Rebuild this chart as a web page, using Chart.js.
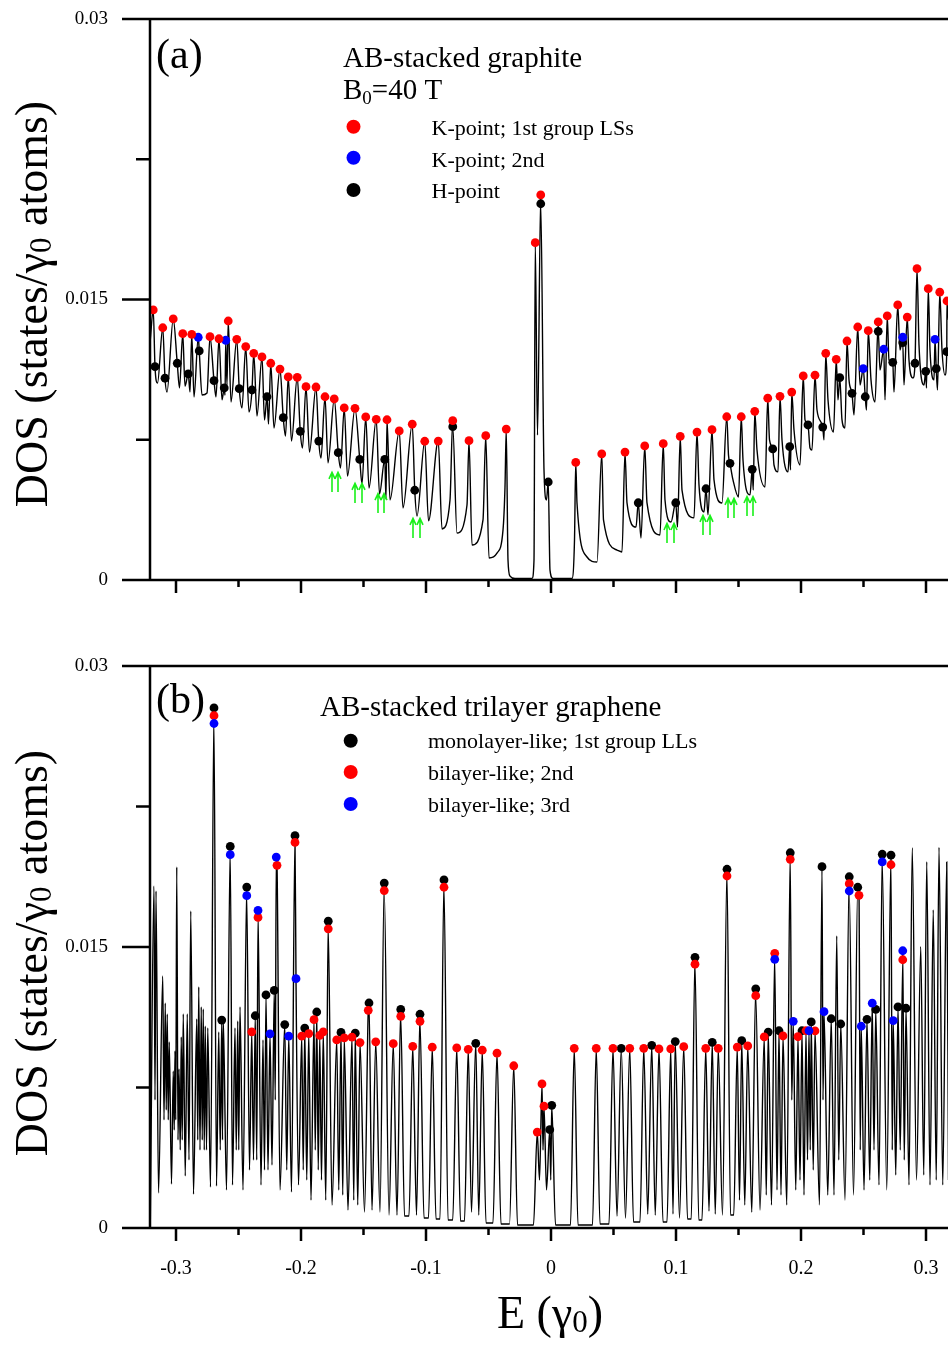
<!DOCTYPE html>
<html>
<head>
<meta charset="utf-8">
<script src="https://cdn.jsdelivr.net/npm/chart.js@4.4.1/dist/chart.umd.min.js"></script>
<style>
  html, body { margin: 0; padding: 0; background: #fff; }
  #wrap { position: relative; width: 948px; height: 1345px; overflow: hidden; }
  canvas { position: absolute; left: 0; }
  #ca { top: 0; }
  #cb { top: 620px; }
</style>
</head>
<body>
<div id="wrap">
  <canvas id="ca" width="948" height="620"></canvas>
  <canvas id="cb" width="948" height="725"></canvas>
</div>
<script>
const SERIF = "'Liberation Serif', 'Times New Roman', serif";

// axes
const xMin = -0.3208, xMax = 0.3176;
const xTicks = [-0.3, -0.2, -0.1, 0, 0.1, 0.2, 0.3];
const xMinorTicks = [-0.25, -0.15, -0.05, 0.05, 0.15, 0.25];
const yTicks = [0, 0.015, 0.03];
const yMinorTicks = [0.0075, 0.0225];

// ---- panel (a): AB-stacked graphite, [E, DOS]
const redA = [[-0.3182,0.01444],[-0.3106,0.01349],[-0.3022,0.01396],[-0.2946,0.01317],[-0.2874,0.01314],[-0.2728,0.01301],[-0.2656,0.0129],[-0.2582,0.01385],[-0.2514,0.01287],[-0.2442,0.01248],[-0.2378,0.01212],[-0.2312,0.01193],[-0.2242,0.01159],[-0.2168,0.01128],[-0.2102,0.01086],[-0.203,0.01084],[-0.196,0.01034],[-0.188,0.01032],[-0.1808,0.0098],[-0.1734,0.00968],[-0.1654,0.0092],[-0.1568,0.00918],[-0.1482,0.00872],[-0.1398,0.00859],[-0.1312,0.00857],[-0.1214,0.00797],[-0.111,0.00833],[-0.101,0.00742],[-0.0902,0.00743],[-0.0786,0.00852],[-0.0656,0.00745],[-0.0522,0.00772],[-0.0358,0.00807],[-0.0126,0.01804],[-0.0082,0.02059],
  [0.0198,0.00629],[0.0406,0.00674],[0.0592,0.00684],[0.075,0.00717],[0.0898,0.00729],[0.1034,0.00768],[0.1168,0.00791],[0.1288,0.00804],[0.1406,0.00873],[0.1522,0.00873],[0.163,0.00902],[0.1734,0.00972],[0.1832,0.00982],[0.1926,0.01005],[0.2018,0.01091],[0.2112,0.01095],[0.2198,0.01212],[0.2282,0.0118],[0.2368,0.01278],[0.2454,0.01353],[0.2538,0.01333],[0.2618,0.0138],[0.269,0.01412],[0.2774,0.01471],[0.285,0.01406],[0.2928,0.01665],[0.3018,0.01558],[0.311,0.01539],[0.3168,0.01492]];
const blueA = [[-0.2822,0.01298],[-0.2602,0.01282],[0.2498,0.0113],[0.2662,0.01234],[0.2814,0.01298],[0.3072,0.01287]];
const blackA = [[-0.3168,0.01141],[-0.3088,0.01079],[-0.299,0.01159],[-0.2902,0.01102],[-0.2814,0.01225],[-0.2696,0.01066],[-0.2614,0.01027],[-0.2494,0.01023],[-0.2392,0.01016],[-0.2272,0.0098],[-0.2142,0.00868],[-0.2006,0.00795],[-0.1858,0.00743],[-0.1702,0.00681],[-0.153,0.00645],[-0.133,0.00645],[-0.109,0.0048],[-0.0786,0.0082],[-0.0082,0.02012],[-0.0022,0.00524],
  [0.0698,0.00413],[0.0998,0.00413],[0.124,0.00488],[0.1432,0.00624],[0.161,0.00592],[0.1774,0.00701],[0.191,0.00713],[0.2056,0.00829],[0.2174,0.00818],[0.231,0.01082],[0.2408,0.00998],[0.2514,0.0098],[0.2618,0.0133],[0.2734,0.01164],[0.2814,0.01269],[0.2912,0.01159],[0.2998,0.01116],[0.3082,0.0113],[0.3166,0.01221]];
const valleysA = [[-0.3206,0.01283],[-0.3148,0.01053],[-0.3072,0.01005],[-0.2972,0.01027],[-0.2928,0.01037],[-0.2888,0.01005],[-0.2856,0.00979],[-0.2792,0.00989],[-0.2752,0.01],[-0.268,0.00979],[-0.2632,0.00963],[-0.2608,0.00989],[-0.2592,0.01043],[-0.256,0.00952],[-0.2472,0.0092],[-0.2416,0.00898],[-0.2352,0.00877],[-0.2292,0.00856],[-0.226,0.00834],[-0.2216,0.00813],[-0.2124,0.0077],[-0.2076,0.00743],[-0.1988,0.00706],[-0.1932,0.00684],[-0.184,0.00652],[-0.1784,0.00626],[-0.1684,0.00599],[-0.1628,0.00556],[-0.1512,0.00513],[-0.1456,0.00492],[-0.1372,0.0046],[-0.132,0.00433],[-0.1288,0.00428],[-0.1184,0.00385],[-0.1072,0.00342],[-0.098,0.00316],[-0.0872,0.00273],[-0.0808,0.00428],[-0.0752,0.00251],[-0.0672,0.00401],[-0.0632,0.00187],[-0.0544,0.00321],[-0.0496,0.00118],[-0.0432,0.00144],[-0.0384,0.00267],[-0.0368,0.00497],[-0.0344,0.00107],[-0.0328,0.00021],[-0.0288,0.00008],[-0.0152,0.00008],[-0.0136,0.00107],[-0.0108,0.00775],[-0.0056,0.00588],[-0.0036,0.00428],[-0.0008,0.00053],[0.0016,0.00008],[0.0168,0.00008],[0.0188,0.00214],[0.0208,0.00412],[0.0288,0.00123],[0.0368,0.00096],[0.042,0.00321],[0.0528,0.0016],[0.0568,0.0015],[0.0608,0.00412],[0.068,0.00283],[0.072,0.00225],[0.0768,0.00412],[0.0872,0.00241],[0.0912,0.00428],[0.096,0.0031],[0.1012,0.00283],[0.1048,0.00481],[0.1144,0.00332],[0.1184,0.00508],[0.1224,0.00364],[0.1256,0.00348],[0.1304,0.00535],[0.1368,0.00412],[0.142,0.00668],[0.1456,0.00535],[0.15,0.00444],[0.1536,0.00642],[0.1592,0.00455],[0.1618,0.00481],[0.1648,0.00695],[0.1712,0.00497],[0.1748,0.00749],[0.1784,0.00615],[0.1816,0.00578],[0.1848,0.00749],[0.1896,0.00578],[0.1916,0.00588],[0.1944,0.00802],[0.1992,0.00615],[0.2032,0.00856],[0.2072,0.00706],[0.2088,0.00695],[0.2128,0.00909],[0.2184,0.00749],[0.2216,0.00963],[0.226,0.00791],[0.2296,0.00963],[0.2328,0.00856],[0.2352,0.00813],[0.2384,0.0107],[0.2424,0.00882],[0.2472,0.01043],[0.2524,0.00909],[0.256,0.0107],[0.2592,0.00952],[0.2632,0.01123],[0.2672,0.00963],[0.2704,0.01176],[0.2744,0.01005],[0.2792,0.0123],[0.2824,0.01043],[0.2864,0.01176],[0.2896,0.0108],[0.2944,0.01257],[0.2984,0.01043],[0.3004,0.01027],[0.3032,0.0123],[0.3064,0.0107],[0.3092,0.01016],[0.3128,0.0123],[0.3152,0.01096],[0.318,0.0139]];
// green arrow tips
const arrowsA = [[-0.1752,0.00578],[-0.1704,0.00578],[-0.1568,0.00519],[-0.1512,0.00519],[-0.1384,0.00465],[-0.1336,0.00465],[-0.1104,0.00332],[-0.1048,0.00332],[0.0928,0.00305],[0.0984,0.00305],[0.1216,0.00348],[0.1272,0.00348],[0.1416,0.00439],[0.1464,0.00439],[0.1568,0.00449],[0.1616,0.00449]];

// ---- panel (b): AB-stacked trilayer graphene, [E, DOS]
const blackB = [[-0.2696,0.02776],[-0.2634,0.0111],[-0.2566,0.02037],[-0.2434,0.0182],[-0.2366,0.01133],[-0.228,0.01244],[-0.2214,0.01268],[-0.213,0.01086],[-0.2048,0.02094],[-0.197,0.01067],[-0.1874,0.01153],[-0.1782,0.01638],[-0.168,0.01044],[-0.1566,0.0104],[-0.1456,0.01201],[-0.1334,0.01841],[-0.1202,0.01167],[-0.1048,0.01141],[-0.0856,0.01858],[-0.0602,0.00986],[-0.001,0.00525],[0.0006,0.00655],
  [0.0562,0.00959],[0.0806,0.00975],[0.0994,0.00995],[0.1152,0.01445],[0.129,0.00991],[0.1408,0.01915],[0.1526,0.01],[0.1638,0.01277],[0.1738,0.01046],[0.1824,0.01053],[0.1914,0.02003],[0.2008,0.01053],[0.2082,0.011],[0.2168,0.01929],[0.2242,0.01117],[0.2318,0.01089],[0.2386,0.01875],[0.2454,0.01819],[0.2528,0.01114],[0.2598,0.01167],[0.265,0.01995],[0.272,0.0199],[0.2776,0.0118],[0.284,0.01173]];
const redB = [[-0.2696,0.02735],[-0.2394,0.01047],[-0.2344,0.01658],[-0.2192,0.01936],[-0.2048,0.02058],[-0.1994,0.01024],[-0.1938,0.01038],[-0.1896,0.01112],[-0.185,0.01028],[-0.1822,0.01047],[-0.1782,0.01597],[-0.1714,0.01004],[-0.1654,0.01015],[-0.1592,0.01019],[-0.1528,0.0099],[-0.1462,0.01162],[-0.1402,0.00994],[-0.1334,0.01801],[-0.1262,0.00984],[-0.1202,0.0113],[-0.1106,0.00969],[-0.1048,0.01103],[-0.095,0.00965],[-0.0856,0.01819],[-0.0754,0.00961],[-0.0662,0.00954],[-0.055,0.00949],[-0.0432,0.00933],[-0.0298,0.00866],[-0.011,0.00512],[-0.0072,0.00769],[-0.0056,0.0065],
  [0.0186,0.00959],[0.0362,0.00959],[0.0496,0.00959],[0.063,0.00959],[0.0742,0.00959],[0.0864,0.00956],[0.0958,0.00956],[0.1062,0.00968],[0.1152,0.01408],[0.1238,0.00959],[0.1338,0.00959],[0.1408,0.01879],[0.149,0.00966],[0.1574,0.00972],[0.1638,0.0124],[0.1706,0.0102],[0.179,0.01466],[0.1856,0.01025],[0.1914,0.01968],[0.1976,0.01021],[0.204,0.01053],[0.2112,0.01052],[0.2386,0.01838],[0.2464,0.01776],[0.272,0.01939],[0.2814,0.01432]];
const blueB = [[-0.2696,0.02693],[-0.2566,0.01993],[-0.2434,0.01774],[-0.2344,0.01695],[-0.2248,0.01036],[-0.2198,0.0198],[-0.2098,0.01024],[-0.204,0.01331],
  [0.179,0.01434],[0.1938,0.01103],[0.2064,0.01053],[0.2184,0.01155],[0.2386,0.01799],[0.2482,0.01077],[0.257,0.012],[0.265,0.01954],[0.2738,0.01107],[0.2814,0.0148]];
const extraPeaksB = [[-0.3176,0.01826],[-0.316,0.01799],[-0.3106,0.01345],[-0.3086,0.01201],[-0.307,0.01142],[-0.3054,0.00993],[-0.3022,0.00838],[-0.3008,0.00945],[-0.2994,0.01927],[-0.2976,0.00849],[-0.2958,0.0102],[-0.2942,0.01142],[-0.291,0.01142],[-0.2882,0.01692],[-0.2834,0.01116],[-0.2818,0.01287],[-0.2798,0.0118],[-0.2782,0.01169],[-0.2766,0.01078],[-0.2746,0.01068],[-0.2658,0.01046],[-0.2622,0.01116],[-0.2528,0.01068],[-0.2506,0.01105],[-0.2488,0.0118],[-0.2304,0.01004],
  [0.2286,0.01559],[0.289,0.0203],[0.2958,0.01502],[0.3006,0.01955],[0.3058,0.01698],[0.3104,0.02032],[0.3166,0.01954]];
const valleysB = [[-0.3206,0],[-0.3168,0.00683],[-0.314,0.00187],[-0.3096,0.00577],[-0.3078,0.0063],[-0.3062,0.00577],[-0.3036,0.00235],[-0.3014,0.00523],[-0.3002,0.00577],[-0.2984,0.0047],[-0.2966,0.00416],[-0.295,0.0047],[-0.2926,0.00278],[-0.2896,0.00363],[-0.286,0.00181],[-0.2826,0.0047],[-0.2808,0.00416],[-0.279,0.0047],[-0.2774,0.00416],[-0.2756,0.00416],[-0.2724,0.00219],[-0.2676,0.00224],[-0.2646,0.00416],[-0.2628,0.0047],[-0.2596,0.00203],[-0.2548,0.0023],[-0.2518,0.00416],[-0.2498,0.00416],[-0.2464,0.00203],[-0.2412,0.0031],[-0.238,0.00363],[-0.2354,0.00363],[-0.232,0.0023],[-0.2292,0.0031],[-0.2264,0.0031],[-0.2232,0.00336],[-0.2206,0.00683],[-0.2168,0.00203],[-0.2114,0.0031],[-0.2076,0.00192],[-0.202,0.0023],[-0.1982,0.0031],[-0.1954,0.00256],[-0.192,0.00149],[-0.1886,0.00416],[-0.1862,0.0031],[-0.1836,0.00256],[-0.1802,0.00149],[-0.1752,0.00123],[-0.1698,0.00203],[-0.1666,0.00176],[-0.1624,0.00096],[-0.1578,0.00149],[-0.1546,0.00123],[-0.1492,0.00085],[-0.1432,0.00096],[-0.1368,0.00085],[-0.1296,0.00069],[-0.1232,0.00069],[-0.1172,0.00064],[-0.1136,0.00064],[-0.1076,0.00069],[-0.1016,0.00053],[-0.098,0.00053],[-0.092,0.00048],[-0.0888,0.00048],[-0.0824,0.00043],[-0.0786,0.00043],[-0.0724,0.00037],[-0.0692,0.00037],[-0.0636,0.00085],[-0.0578,0.00069],[-0.052,0.00027],[-0.0464,0.00027],[-0.04,0.00021],[-0.0332,0.00021],[-0.0268,0.00016],[-0.014,0.00016],[-0.0092,0.00256],[-0.0064,0.00416],[-0.0036,0.00203],[-0.0002,0.00256],[0.0036,0.00016],[0.0156,0.00016],[0.0216,0.00016],[0.0332,0.00016],[0.0392,0.00021],[0.0464,0.00021],[0.0528,0.00064],[0.0596,0.00053],[0.066,0.00032],[0.0712,0.00032],[0.0774,0.00075],[0.0834,0.00069],[0.0896,0.00032],[0.0928,0.00032],[0.0976,0.00075],[0.1028,0.00053],[0.1092,0.00048],[0.1122,0.00048],[0.1182,0.00043],[0.1208,0.00043],[0.1264,0.00091],[0.1314,0.00075],[0.1372,0.00069],[0.1436,0.00069],[0.1462,0.00069],[0.1508,0.00149],[0.155,0.00123],[0.1606,0.00085],[0.1672,0.00096],[0.1722,0.00176],[0.1764,0.00123],[0.1808,0.00203],[0.184,0.00176],[0.1886,0.00123],[0.1926,0.00683],[0.1958,0.00203],[0.1992,0.00256],[0.2024,0.00176],[0.2052,0.00363],[0.2074,0.00416],[0.2098,0.0031],[0.2148,0.00123],[0.2176,0.00683],[0.2214,0.00176],[0.2264,0.00176],[0.2302,0.00363],[0.2352,0.00149],[0.242,0.00176],[0.2474,0.00416],[0.2504,0.00203],[0.255,0.00256],[0.2584,0.00416],[0.2624,0.0023],[0.2686,0.00203],[0.273,0.00416],[0.2758,0.00283],[0.2794,0.00416],[0.2826,0.00363],[0.2864,0.0023],[0.2924,0.00256],[0.2982,0.00283],[0.3032,0.0023],[0.3082,0.00256],[0.3134,0.0023],[0.318,0.00256]];

function pts(list) { return list.map(p => ({ x: p[0], y: p[1] })); }
function curve(...lists) { return pts(lists.flat()).sort((p, q) => p.x - q.x); }

function textRuns(ctx, runs, x, y, align) {
  let w = 0;
  runs.forEach(r => { ctx.font = r[1] + 'px ' + SERIF; w += ctx.measureText(r[0]).width; });
  let cx = align === 'center' ? x - w / 2 : x;
  runs.forEach(r => {
    ctx.font = r[1] + 'px ' + SERIF;
    ctx.fillText(r[0], cx, y + (r[2] || 0));
    cx += ctx.measureText(r[0]).width;
  });
}

const decor = {
  id: 'decor',
  afterDraw(chart, args, o) {
    const { ctx, chartArea: a } = chart;
    const sx = chart.scales.x, sy = chart.scales.y;
    ctx.save();
    // frame and ticks
    ctx.strokeStyle = '#000';
    ctx.lineWidth = 2.5;
    ctx.beginPath();
    ctx.moveTo(a.left, a.top - 1.2); ctx.lineTo(a.left, a.bottom + 1.2);
    ctx.moveTo(a.left - 28, a.top); ctx.lineTo(a.right, a.top);
    ctx.moveTo(a.left - 28, a.bottom); ctx.lineTo(a.right, a.bottom);
    yTicks.forEach(v => { const y = sy.getPixelForValue(v); ctx.moveTo(a.left - 28, y); ctx.lineTo(a.left, y); });
    yMinorTicks.forEach(v => { const y = sy.getPixelForValue(v); ctx.moveTo(a.left - 14, y); ctx.lineTo(a.left, y); });
    xTicks.forEach(v => { const x = sx.getPixelForValue(v); ctx.moveTo(x, a.bottom); ctx.lineTo(x, a.bottom + 13); });
    xMinorTicks.forEach(v => { const x = sx.getPixelForValue(v); ctx.moveTo(x, a.bottom); ctx.lineTo(x, a.bottom + 7); });
    ctx.stroke();

    ctx.fillStyle = '#000';
    ctx.textAlign = 'left';
    ctx.textBaseline = 'alphabetic';
    // panel label
    ctx.font = '42px ' + SERIF;
    ctx.fillText(o.label, 156, o.labelBase);
    // y title
    ctx.save();
    ctx.translate(47, o.yTitleMid);
    ctx.rotate(-Math.PI / 2);
    textRuns(ctx, [['DOS (states/\u03b3', 46], ['0', 31, 4], [' atoms)', 46]], 0, 0, 'center');
    ctx.restore();
    // legend
    o.head.forEach(h => textRuns(ctx, h.runs, h.x, h.y, 'left'));
    o.items.forEach(it => {
      ctx.fillStyle = it.color;
      ctx.beginPath(); ctx.arc(o.dotX, it.dotY, 7, 0, Math.PI * 2); ctx.fill();
      ctx.fillStyle = '#000';
      ctx.font = '22px ' + SERIF;
      ctx.fillText(it.text, o.textX, it.base);
    });
    // arrows
    if (o.arrows) {
      ctx.strokeStyle = '#19f019';
      ctx.lineWidth = 1.6;
      o.arrows.forEach(p => {
        const x = sx.getPixelForValue(p[0]), y = sy.getPixelForValue(p[1]);
        ctx.beginPath();
        ctx.moveTo(x, y + 20); ctx.lineTo(x, y + 1);
        ctx.moveTo(x - 3, y + 7); ctx.lineTo(x, y + 0.5); ctx.lineTo(x + 3, y + 7);
        ctx.stroke();
      });
    }
    // x title
    if (o.xTitleBase) {
      textRuns(ctx, [['E (\u03b3', 46], ['0', 31, 4], [')', 46]], 550, o.xTitleBase, 'center');
    }
    ctx.restore();
  }
};

function noPad(s) { s.paddingLeft = 0; s.paddingRight = 0; s.paddingTop = 0; s.paddingBottom = 0; }

function dotSet(data, color, order) {
  return { data: pts(data), showLine: false, pointRadius: 4.4, pointHoverRadius: 4.4,
    pointBackgroundColor: color, pointBorderWidth: 0, order: order };
}

function makeChart(id, cfg) {
  return new Chart(document.getElementById(id), {
    type: 'scatter',
    data: {
      datasets: [
        { data: cfg.line, showLine: true, pointRadius: 0, borderColor: '#000', borderWidth: 1.4,
          cubicInterpolationMode: 'monotone', fill: false, order: 10 },
        ...cfg.dots
      ]
    },
    options: {
      responsive: false,
      animation: false,
      devicePixelRatio: 1,
      events: [],
      layout: { autoPadding: false, padding: { top: cfg.padTop, left: 0, right: 0, bottom: 0 } },
      plugins: { legend: { display: false }, tooltip: { enabled: false }, decor: cfg.decor },
      scales: {
        x: {
          type: 'linear', min: xMin, max: xMax,
          grid: { display: false, drawTicks: false }, border: { display: false },
          afterBuildTicks: s => { s.ticks = xTicks.map(v => ({ value: v })); },
          afterFit: s => { s.height = cfg.xHeight; noPad(s); },
          ticks: {
            display: cfg.xLabels, color: '#000', padding: 29, maxRotation: 0, autoSkip: false,
            font: { family: SERIF, size: 20 },
            callback: v => (Math.abs(v) < 1e-9 ? '0' : String(Math.round(v * 10) / 10))
          }
        },
        y: {
          type: 'linear', min: 0, max: 0.03,
          grid: { display: false, drawTicks: false }, border: { display: false },
          afterBuildTicks: s => { s.ticks = yTicks.map(v => ({ value: v })); },
          afterFit: s => { s.width = 150; noPad(s); },
          ticks: {
            color: '#000', padding: 42,
            font: { family: SERIF, size: 19 },
            callback: v => (v === 0 ? '0' : String(v))
          }
        }
      }
    },
    plugins: [decor]
  });
}

makeChart('ca', {
  line: curve(redA, blueA, blackA, valleysA),
  dots: [dotSet(redA, '#ff0000', 1), dotSet(blueA, '#0000ff', 2), dotSet(blackA, '#000000', 3)],
  padTop: 19, xHeight: 40, xLabels: false,
  decor: {
    label: '(a)', labelBase: 68, yTitleMid: 304,
    head: [
      { runs: [['AB-stacked graphite', 29]], x: 343, y: 67 },
      { runs: [['B', 29], ['0', 19, 5], ['=40 T', 29]], x: 343, y: 99 }
    ],
    dotX: 353.5, textX: 431.5,
    items: [
      { color: '#ff0000', dotY: 126.7, text: 'K-point; 1st group LSs', base: 135 },
      { color: '#0000ff', dotY: 157.7, text: 'K-point; 2nd', base: 166.7 },
      { color: '#000000', dotY: 190, text: 'H-point', base: 198.3 }
    ],
    arrows: arrowsA
  }
});

makeChart('cb', {
  line: curve(blackB, redB, blueB, extraPeaksB, valleysB),
  dots: [dotSet(blueB, '#0000ff', 1), dotSet(redB, '#ff0000', 2), dotSet(blackB, '#000000', 3)],
  padTop: 46, xHeight: 117, xLabels: true,
  decor: {
    label: '(b)', labelBase: 93, yTitleMid: 333,
    head: [{ runs: [['AB-stacked trilayer graphene', 29]], x: 320, y: 96 }],
    dotX: 350.7, textX: 428,
    items: [
      { color: '#000000', dotY: 120.7, text: 'monolayer-like; 1st group LLs', base: 128 },
      { color: '#ff0000', dotY: 152, text: 'bilayer-like; 2nd', base: 160 },
      { color: '#0000ff', dotY: 184, text: 'bilayer-like; 3rd', base: 191.7 }
    ],
    xTitleBase: 708
  }
});
</script>
</body>
</html>
